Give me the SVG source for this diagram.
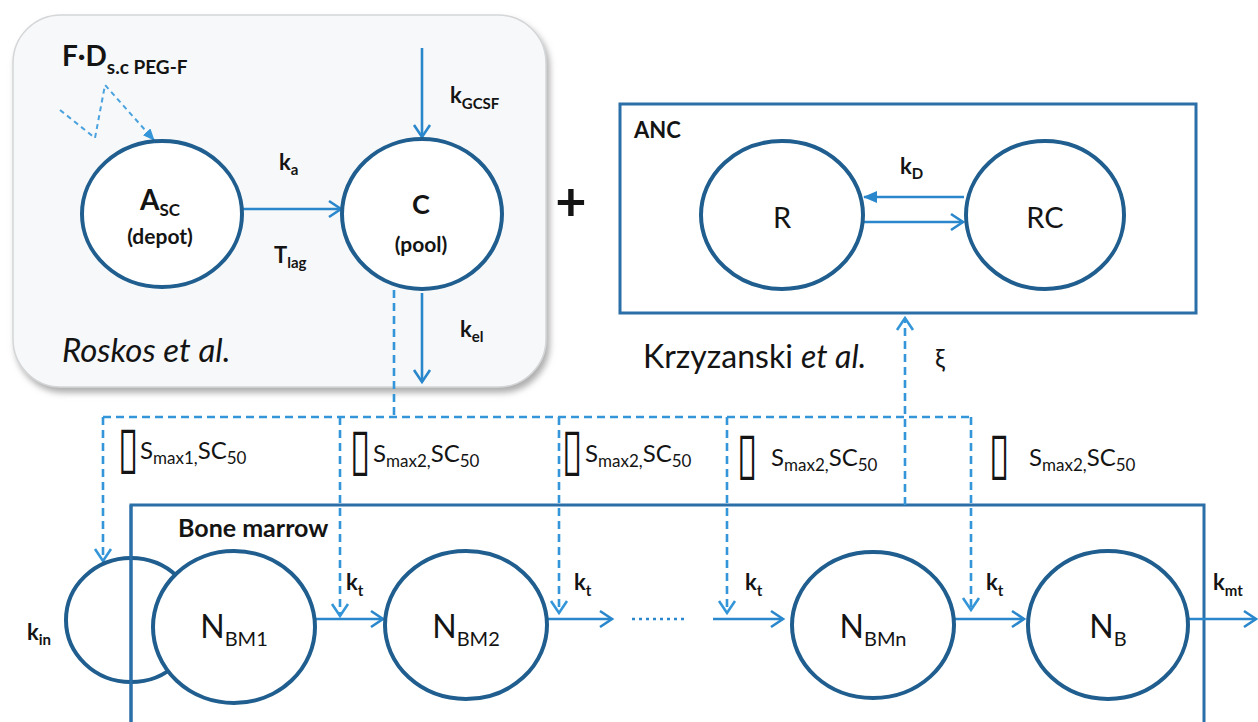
<svg xmlns="http://www.w3.org/2000/svg" width="1258" height="722" viewBox="0 0 1258 722">
  <style>
    text { font-family: Lato, "Open Sans", "Liberation Sans", sans-serif; fill: #141414; }
    .b { font-weight: bold; }
    .it { font-style: italic; }
    .node { fill: #ffffff; stroke: #1f5e8e; stroke-width: 4; }
    .flow { fill: none; stroke: #2b87cc; stroke-width: 2.6; }
    .dash { fill: none; stroke: #3496d8; stroke-width: 2.6; stroke-dasharray: 8 5; }
    .frame { fill: none; stroke: #2a6fa8; stroke-width: 3; }
    .tofu { font-family: "DejaVu Sans", sans-serif; font-size: 58px; }
    .k { font-weight: bold; font-size: 22px; }
    .ks { font-size: 15px; }
    .eff { font-size: 24px; }
    .effs { font-size: 17px; }
  </style>
  <defs>
    <marker id="chev" markerUnits="userSpaceOnUse" markerWidth="18" markerHeight="20" viewBox="0 0 18 20" refX="15" refY="10" orient="auto">
      <path d="M3,2 L15,10 L3,18" fill="none" stroke="#2b87cc" stroke-width="2.6"/>
    </marker>
    <marker id="chevD" markerUnits="userSpaceOnUse" markerWidth="18" markerHeight="20" viewBox="0 0 18 20" refX="15" refY="10" orient="auto">
      <path d="M3,2 L15,10 L3,18" fill="none" stroke="#3496d8" stroke-width="2.6"/>
    </marker>
    <marker id="tri" markerUnits="userSpaceOnUse" markerWidth="14" markerHeight="12" viewBox="0 0 14 12" refX="13" refY="6" orient="auto">
      <path d="M0,0 L14,6 L0,12 Z" fill="#2b87cc"/>
    </marker>
    <marker id="triD" markerUnits="userSpaceOnUse" markerWidth="12" markerHeight="10" viewBox="0 0 12 10" refX="11" refY="5" orient="auto">
      <path d="M0,0 L12,5 L0,10 Z" fill="#3496d8"/>
    </marker>
    <filter id="shadow" x="-5%" y="-5%" width="112%" height="115%">
      <feDropShadow dx="3" dy="5" stdDeviation="3" flood-color="#8a8a8a" flood-opacity="0.7"/>
    </filter>
  </defs>

  <rect width="1258" height="722" fill="#ffffff"/>

  <!-- PK panel (Roskos) -->
  <g id="pk-panel">
    <rect x="13" y="15" width="533" height="372" rx="48" fill="#f7f8f9" stroke="#d4d6d8" stroke-width="1.5" filter="url(#shadow)"/>
    <text class="it" x="62" y="362" font-size="33">Roskos et al.</text>
  </g>

  <!-- ANC panel (Krzyzanski) -->
  <g id="anc-panel">
    <rect class="frame" x="620" y="104" width="576" height="209"/>
    <text class="b" x="634" y="138" font-size="22">ANC</text>
  </g>
  <text x="643" y="368" font-size="32">Krzyzanski <tspan class="it">et al.</tspan></text>

  <!-- Bone marrow frame -->
  <g id="bone-marrow">
    <path class="frame" d="M131,722 V505 H1204 V722"/>
    <text class="b" x="178" y="537" font-size="25">Bone marrow</text>
  </g>

  <text class="b" x="571" y="221" font-size="54" text-anchor="middle">+</text>

  <!-- Connectors -->
  <g id="connectors">
    <!-- dosing input -->
    <polyline points="60,110 95,138 105,85 154,140" fill="none" stroke="#4aa2de" stroke-width="2" stroke-dasharray="5 4" marker-end="url(#triD)"/>
    <!-- absorption -->
    <line class="flow" x1="243" y1="209" x2="341" y2="209" marker-end="url(#chev)"/>
    <!-- endogenous input and elimination -->
    <line class="flow" x1="422" y1="48" x2="422" y2="137" marker-end="url(#chev)"/>
    <line class="flow" x1="422" y1="293" x2="422" y2="382" marker-end="url(#chev)"/>
    <!-- receptor binding -->
    <line class="flow" x1="964" y1="197" x2="864" y2="197" marker-end="url(#tri)"/>
    <line class="flow" x1="864" y1="222" x2="963" y2="222" marker-end="url(#chev)"/>
    <!-- concentration effect lines -->
    <path class="dash" d="M394,290 V417"/>
    <path class="dash" d="M103,417 H971"/>
    <path class="dash" d="M103,417 V561" marker-end="url(#chevD)"/>
    <path class="dash" d="M340,417 V616" marker-end="url(#chevD)"/>
    <path class="dash" d="M559,417 V613" marker-end="url(#chevD)"/>
    <path class="dash" d="M727,417 V613" marker-end="url(#chevD)"/>
    <path class="dash" d="M971,417 V610" marker-end="url(#chevD)"/>
    <path class="dash" d="M905,505 V318" marker-end="url(#chevD)"/>
    <!-- maturation chain -->
    <line class="flow" x1="315" y1="619" x2="383" y2="619" marker-end="url(#chev)"/>
    <line class="flow" x1="547" y1="619" x2="612" y2="619" marker-end="url(#chev)"/>
    <line x1="632" y1="619" x2="688" y2="619" stroke="#2b87cc" stroke-width="2.6" stroke-dasharray="3 4"/>
    <line class="flow" x1="713" y1="619" x2="783" y2="619" marker-end="url(#chev)"/>
    <line class="flow" x1="953" y1="619" x2="1024" y2="619" marker-end="url(#chev)"/>
    <line class="flow" x1="1189" y1="619" x2="1256" y2="619" marker-end="url(#chev)"/>
  </g>

  <!-- Connector labels -->
  <g id="labels">
    <text class="b" x="62" y="66" font-size="28">F·D<tspan font-size="19" dy="8">s.c PEG-F</tspan></text>
    <text class="k" x="279" y="170">k<tspan class="ks" dy="5">a</tspan></text>
    <text class="k" x="274" y="263">T<tspan class="ks" dy="5">lag</tspan></text>
    <text class="k" x="450" y="103">k<tspan class="ks" dy="6">GCSF</tspan></text>
    <text class="k" x="460" y="337">k<tspan class="ks" dy="5">el</tspan></text>
    <text class="k" x="900" y="174">k<tspan class="ks" dy="5">D</tspan></text>
    <text x="935" y="367" font-size="25">ξ</text>

    <!-- effect labels: glyph box + Smax/SC50 -->
    <text class="tofu" transform="translate(118,467) scale(0.65,1)">▯</text>
    <text class="eff" x="140" y="459">S<tspan class="effs" dy="5">max1,</tspan><tspan dy="-5">SC</tspan><tspan class="effs" dy="5">50</tspan></text>
    <text class="tofu" transform="translate(350,469) scale(0.65,1)">▯</text>
    <text class="eff" x="373" y="462">S<tspan class="effs" dy="5">max2,</tspan><tspan dy="-5">SC</tspan><tspan class="effs" dy="5">50</tspan></text>
    <text class="tofu" transform="translate(562,469) scale(0.65,1)">▯</text>
    <text class="eff" x="585" y="462">S<tspan class="effs" dy="5">max2,</tspan><tspan dy="-5">SC</tspan><tspan class="effs" dy="5">50</tspan></text>
    <text class="tofu" transform="translate(737,473) scale(0.65,1)">▯</text>
    <text class="eff" x="771" y="466">S<tspan class="effs" dy="5">max2,</tspan><tspan dy="-5">SC</tspan><tspan class="effs" dy="5">50</tspan></text>
    <text class="tofu" transform="translate(989,473) scale(0.65,1)">▯</text>
    <text class="eff" x="1029" y="466">S<tspan class="effs" dy="5">max2,</tspan><tspan dy="-5">SC</tspan><tspan class="effs" dy="5">50</tspan></text>

    <text class="k" x="27" y="640">k<tspan class="ks" dy="5">in</tspan></text>
    <text class="k" x="346" y="590">k<tspan class="ks" dy="6">t</tspan></text>
    <text class="k" x="574" y="590">k<tspan class="ks" dy="6">t</tspan></text>
    <text class="k" x="745" y="590">k<tspan class="ks" dy="6">t</tspan></text>
    <text class="k" x="986" y="590">k<tspan class="ks" dy="6">t</tspan></text>
    <text class="k" x="1213" y="590">k<tspan class="ks" dy="6">mt</tspan></text>
  </g>

  <!-- Nodes -->
  <g id="node-asc">
    <ellipse class="node" cx="162" cy="214" rx="80" ry="73"/>
    <text class="b" x="160" y="210" font-size="28" text-anchor="middle">A<tspan font-size="17" dy="6">SC</tspan></text>
    <text class="b" x="160" y="244" font-size="21" text-anchor="middle">(depot)</text>
  </g>
  <g id="node-c">
    <ellipse class="node" cx="422" cy="214" rx="80" ry="75"/>
    <text class="b" x="421" y="214" font-size="27" text-anchor="middle">C</text>
    <text class="b" x="421" y="252" font-size="21" text-anchor="middle">(pool)</text>
  </g>
  <g id="node-r">
    <ellipse class="node" cx="782" cy="215" rx="81" ry="74"/>
    <text x="782" y="228" font-size="29" text-anchor="middle">R</text>
  </g>
  <g id="node-rc">
    <ellipse class="node" cx="1045" cy="215" rx="79" ry="74"/>
    <text x="1045" y="228" font-size="29" text-anchor="middle">RC</text>
  </g>
  <g id="node-in">
    <ellipse class="node" cx="131" cy="620" rx="65" ry="62" style="fill:none"/>
    <line x1="131" y1="505" x2="131" y2="722" class="frame"/>
  </g>
  <g id="node-nbm1">
    <ellipse class="node" cx="234" cy="627" rx="81" ry="76"/>
    <text x="234" y="638" font-size="32" text-anchor="middle">N<tspan font-size="20" dy="8">BM1</tspan></text>
  </g>
  <g id="node-nbm2">
    <ellipse class="node" cx="466" cy="625" rx="81" ry="74"/>
    <text x="466" y="638" font-size="32" text-anchor="middle">N<tspan font-size="20" dy="8">BM2</tspan></text>
  </g>
  <g id="node-nbmn">
    <ellipse class="node" cx="873" cy="625" rx="81" ry="73"/>
    <text x="873" y="638" font-size="32" text-anchor="middle">N<tspan font-size="20" dy="8">BMn</tspan></text>
  </g>
  <g id="node-nb">
    <ellipse class="node" cx="1108" cy="625" rx="80" ry="74"/>
    <text x="1108" y="638" font-size="32" text-anchor="middle">N<tspan font-size="20" dy="8">B</tspan></text>
  </g>
</svg>
